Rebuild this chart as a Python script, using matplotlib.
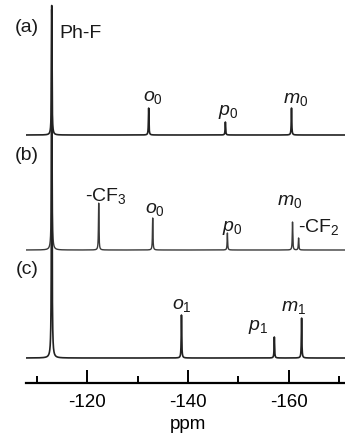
import numpy as np
import matplotlib
matplotlib.use('Agg')
import matplotlib.pyplot as plt
import matplotlib.transforms as mtransforms
from matplotlib.ticker import MultipleLocator

plt.rcParams['font.family'] = ['Liberation Sans', 'DejaVu Sans']
plt.rcParams['mathtext.fontset'] = 'custom'
plt.rcParams['mathtext.rm'] = 'Liberation Sans'
plt.rcParams['mathtext.it'] = 'Liberation Sans:italic'
plt.rcParams['axes.unicode_minus'] = False

# peak lists (ppm, peak height in arbitrary units)
a_ppm = [-113.0, -132.2, -147.4, -160.5]
a_height = [130, 27, 13, 27]
b_ppm = [-113.0, -122.3, -133.0, -147.8, -160.7, -161.9]
b_height = [240, 47, 32, 17, 28, 12]
c_ppm = [-113.0, -138.7, -157.1, -162.5]
c_height = [350, 43, 21, 40]

tick_major = [-120, -140, -160]

fig = plt.figure(figsize=(3.45, 4.34), dpi=100)
ax = fig.add_axes([26 / 345, 1 - 383 / 434, 1 - 26 / 345, 383 / 434])

x = np.linspace(-107.9, -171.1, 8000)
hw = 0.06


def spectrum(ppm, height, base):
    y = np.full_like(x, base, dtype=float)
    for p, h in zip(ppm, height):
        y += h * hw**2 / ((x - p)**2 + hw**2)
    return y


ax.plot(x, spectrum(a_ppm, a_height, 248), color='#222222', lw=1.2)
ax.plot(x, spectrum(b_ppm, b_height, 133), color='#3a3a3a', lw=1.0)
ax.plot(x, spectrum(c_ppm, c_height, 25), color='#222222', lw=1.2)

ax.set_xlim(-107.9, -171.1)
ax.set_ylim(0, 383)

for s in ['top', 'left', 'right']:
    ax.spines[s].set_visible(False)
ax.spines['bottom'].set_linewidth(1.6)
ax.set_yticks([])
ax.set_xticks(tick_major)
ax.xaxis.set_minor_locator(MultipleLocator(10))
ax.tick_params(axis='x', which='major', direction='in', length=9.5, width=1.4,
               labelsize=13.5, pad=8)
ax.tick_params(axis='x', which='minor', direction='in', length=5, width=1.4)

# axis title sits right under the tick labels, at the bottom of the figure
trans = mtransforms.blended_transform_factory(ax.transData, fig.transFigure)
ax.text(-140, 0.002, 'ppm', transform=trans, ha='center', va='bottom',
        fontsize=13.5)

fs = 14
labels = [
    ('(a)', -108.1, 355, 'center'),
    ('Ph-F', -114.5, 350, 'left'),
    (r'$\mathit{o}_0$', -133.1, 286, 'center'),
    (r'$\mathit{p}_0$', -147.9, 271, 'center'),
    (r'$\mathit{m}_0$', -161.4, 283, 'center'),
    ('(b)', -108.1, 227, 'center'),
    (r'-CF$_3$', -123.8, 187, 'center'),
    (r'$\mathit{o}_0$', -133.5, 173, 'center'),
    (r'$\mathit{p}_0$', -148.7, 155, 'center'),
    (r'$\mathit{m}_0$', -160.2, 181, 'center'),
    (r'-CF$_2$', -161.8, 156, 'left'),
    ('(c)', -108.1, 113, 'center'),
    (r'$\mathit{o}_1$', -138.8, 78, 'center'),
    (r'$\mathit{p}_1$', -153.9, 56, 'center'),
    (r'$\mathit{m}_1$', -161.0, 76, 'center'),
]
for t, lx, ly, ha in labels:
    ax.text(lx, ly, t, fontsize=fs, ha=ha, va='center', color='#1a1a1a')

fig.savefig('out.png', dpi=100)
